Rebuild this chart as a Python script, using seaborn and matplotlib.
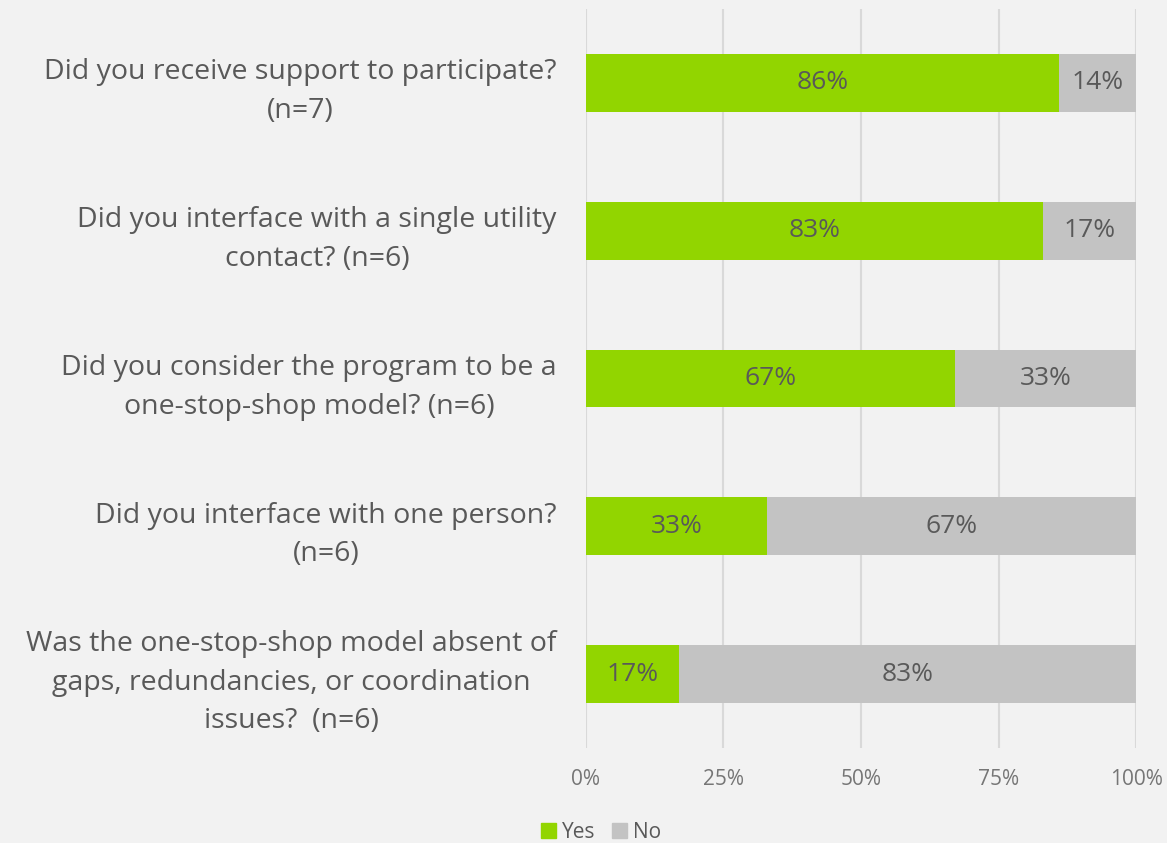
import numpy as np
import pandas as pd
import matplotlib
matplotlib.use("Agg")
import matplotlib.pyplot as plt
import seaborn as sns
from matplotlib.patches import Patch

questions = [
    "Did you receive support to participate?\n(n=7)",
    "Did you interface with a single utility\ncontact? (n=6)",
    "Did you consider the program to be a\none-stop-shop model? (n=6)",
    "Did you interface with one person?\n(n=6)",
    "Was the one-stop-shop model absent of\ngaps, redundancies, or coordination\nissues?  (n=6)",
]
yes = [86, 83, 67, 33, 17]
no = [14, 17, 33, 67, 83]

green = "#92d500"
grey = "#c3c3c3"
bg = "#f2f2f2"
txt = "#595959"

df = pd.DataFrame({"question": questions, "Yes": yes, "No": no})
df["total"] = df["Yes"] + df["No"]

sns.set_style("white")
plt.rcParams["font.family"] = ["Open Sans", "DejaVu Sans"]

fig = plt.figure(figsize=(11.67, 8.43), dpi=100, facecolor=bg)
ax = fig.add_axes([0.502, 0.1127, 0.4716, 0.8766])
ax.set_facecolor(bg)

# grey = full bar (yes + no), green drawn over it
sns.barplot(data=df, y="question", x="total", color=grey, width=0.39,
            orient="h", ax=ax, saturation=1, linewidth=0, zorder=2)
sns.barplot(data=df, y="question", x="Yes", color=green, width=0.39,
            orient="h", ax=ax, saturation=1, linewidth=0, zorder=3)

for i, (y_, n_) in enumerate(zip(yes, no)):
    ax.text(y_ / 2, i, f"{y_}%", ha="center", va="center", fontsize=19, color=txt, zorder=4)
    ax.text(y_ + n_ / 2, i, f"{n_}%", ha="center", va="center", fontsize=19, color=txt, zorder=4)

ax.set_xlim(0, 100)
ax.set_ylim(4.5, -0.5)
ax.set_xticks([0, 25, 50, 75, 100])
ax.set_xticklabels(["0%", "25%", "50%", "75%", "100%"])
ax.grid(axis="x", color="#d9d9d9", linewidth=1.5, zorder=0)
ax.set_axisbelow(True)
for s in ax.spines.values():
    s.set_visible(False)
ax.set_xlabel("")
ax.set_ylabel("")
ax.tick_params(axis="x", length=0, pad=15, labelsize=15, labelcolor="#767676")
ax.tick_params(axis="y", length=0, pad=21, labelsize=20.5, labelcolor=txt)
for lab in ax.get_yticklabels():
    lab.set_multialignment("center")
    lab.set_linespacing(1.5)

handles = [Patch(color=green, label="Yes"), Patch(color=grey, label="No")]
fig.legend(handles=handles, loc="lower center", bbox_to_anchor=(0.515, -0.022), ncol=2,
           frameon=False, fontsize=15, labelcolor=txt, handlelength=0.7, handleheight=0.7,
           handletextpad=0.3, columnspacing=0.8)

fig.savefig("out.png", dpi=100, facecolor=bg)
